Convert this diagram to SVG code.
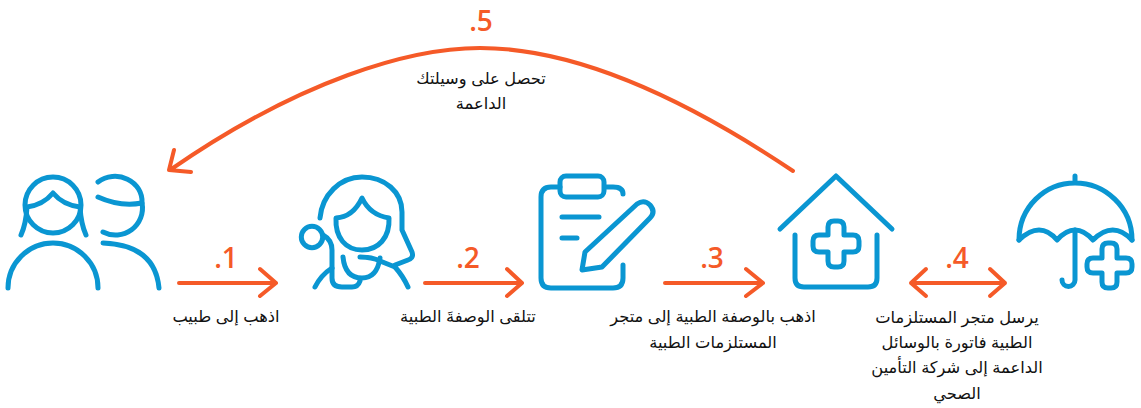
<svg xmlns="http://www.w3.org/2000/svg" width="1141" height="408" viewBox="0 0 1141 408">
<style>
.i{fill:none;stroke:#0a96d2;stroke-width:5;stroke-linecap:round;stroke-linejoin:round}
.c{fill:none;stroke:#f55a28;stroke-width:4;stroke-linecap:round;stroke-linejoin:round}
.n{font-family:"Open Sans",sans-serif;font-weight:600;font-size:28px;fill:#f55a28;text-anchor:middle}
.t{font-family:"Liberation Sans","DejaVu Sans",sans-serif;font-size:16.3px;fill:#111;text-anchor:middle;direction:rtl}
</style>
<rect width="1141" height="408" fill="#fff"/>
<g id="connectors">
<path class="c" d="M179 283H276M260 269L276 283L260 296"/>
<path class="c" d="M425 283H522M507 269L522 283L507 296"/>
<path class="c" d="M665 283H763M746 269L763 283L746 296"/>
<path class="c" d="M911 283H1005M926 269L911 283L926 296M990 269L1005 283L990 296"/>
<path class="c" d="M793 171C650 75 550 48 480 48C410 48 300 80 170 170M191 172L169 170L174 150"/>
</g>
<g id="node-patient">
<circle class="i" cx="53" cy="205" r="28"/>
<path class="i" d="M21 235Q26 224 27 207Q43 205 53 193Q63 205 80 207Q81 224 86 235"/>
<path class="i" d="M8 288A45 45 0 0 1 98 288"/>
<path class="i" d="M98 182A27 25 0 0 1 142 203A27 27 0 0 1 103 232"/>
<path class="i" d="M98 197Q120 207 142 203"/>
<path class="i" d="M103 243Q155 245 159 288"/>
<text class="n" x="226" y="268">.1</text>
<text class="t" x="226" y="322">اذهب إلى طبيب</text>
</g>
<g id="node-doctor">
<path class="i" d="M320 218C322 195 340 177 362 177C385 177 402 192 402 212V230L412 252Q414 258 408 260L395 265"/>
<path class="i" d="M336 218Q353 217 362 198Q370 215 389 218C390 238 378 250 362 250C346 250 335 238 336 218Z"/>
<circle class="i" cx="312" cy="237" r="10.700"/>
<path class="i" d="M323 235Q332 240 332 250V278Q332 287 342 287H352Q358 287 360 281"/>
<path class="i" d="M315 287Q321 275 332 268"/>
<path class="i" d="M343 257Q345 278 362 278Q377 278 380 258"/>
<path class="i" d="M360 257Q372 257 380 261L395 267"/>
<path class="i" d="M395 267Q403 276 408 287"/>
<text class="n" x="468" y="268">.2</text>
<text class="t" x="468" y="322">تتلقى الوصفةَ الطبية</text>
</g>
<g id="node-prescription">
<path class="i" d="M560 187H551Q541 187 541 197V278Q541 288 551 288H613Q623 288 623 278V265"/>
<path class="i" d="M605 187H613Q623 187 623 194"/>
<rect class="i" x="560" y="176" width="44" height="21" rx="6"/>
<path class="i" d="M562 217H599M562 238H577"/>
<path class="i" d="M582 270L585 252L637 204Q644 199 650 205Q656 212 650 218L602 267Z"/>
<text class="n" x="712" y="268">.3</text>
<text class="t" x="713" y="322">اذهب بالوصفة الطبية إلى متجر</text>
<text class="t" x="713" y="348">المستلزمات الطبية</text>
</g>
<g id="node-store">
<path class="i" d="M780 229L836 176L892 229"/>
<path class="i" d="M795 235V278Q795 287 804 287H868Q877 287 877 278V235"/>
<path class="i" d="M828 227Q828 221 834 221H838Q844 221 844 227V235H853Q859 235 859 241V246Q859 252 853 252H844V261Q844 267 838 267H834Q828 267 828 261V252H819Q813 252 813 246V241Q813 235 819 235H828Z"/>
<text class="n" x="957" y="268">.4</text>
<text class="t" x="957" y="323">يرسل متجر المستلزمات</text>
<text class="t" x="957" y="348">الطبية فاتورة بالوسائل</text>
<text class="t" x="957" y="373">الداعمة إلى شركة التأمين</text>
<text class="t" x="957" y="399">الصحي</text>
</g>
<g id="node-insurance">
<path class="i" d="M1075 176V183M1019 240C1019 207 1045 183 1075 183C1105 183 1132 207 1132 240"/>
<path class="i" d="M1019 240Q1040 220 1057 240Q1075 220 1093 240Q1113 220 1132 240"/>
<path class="i" d="M1075 230V280A6.500 6.500 0 0 1 1062 280"/>
<path class="i" d="M1102 249Q1102 243 1108 243H1111Q1117 243 1117 249V258H1126Q1132 258 1132 264V267Q1132 273 1126 273H1117V282Q1117 288 1111 288H1108Q1102 288 1102 282V273H1093Q1087 273 1087 267V264Q1087 258 1093 258H1102Z"/>
</g>
<g id="node-aid">
<text class="n" x="481" y="31">.5</text>
<text class="t" x="481" y="84">تحصل على وسيلتك</text>
<text class="t" x="481" y="109">الداعمة</text>
</g>
</svg>
